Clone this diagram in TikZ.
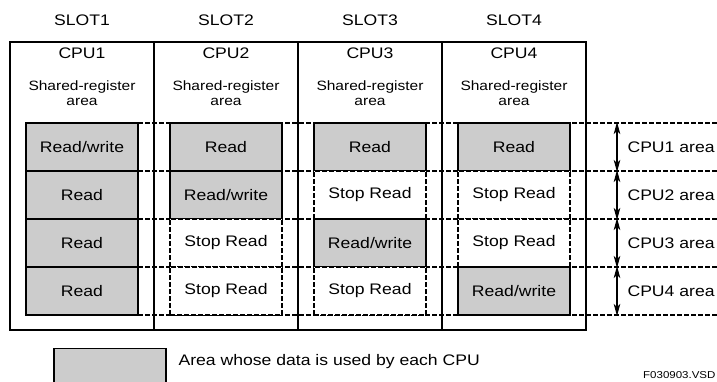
\documentclass[tikz,border=0pt]{standalone}
\usepackage{fontspec}
\setmainfont[FakeStretch=1.15]{Liberation Sans}
\usetikzlibrary{arrows.meta}
\definecolor{cellgray}{RGB}{204,204,204}
\definecolor{linecol}{RGB}{0,0,0}
\begin{document}
\begin{tikzpicture}[x=1pt,y=-1pt,line width=1.1pt,
  big/.style={font=\fontsize{15.3}{17}\selectfont,inner sep=0pt},
  sml/.style={font=\fontsize{13.5}{14.5}\selectfont,inner sep=0pt,align=center},
  tiny/.style={font=\fontsize{10}{12}\selectfont,inner sep=0pt},
  cellbase/.style={minimum width=112pt,minimum height=48pt,inner sep=0pt,
    font=\fontsize{15.3}{17}\selectfont,draw=linecol},
  gcell/.style={cellbase,fill=cellgray},
  wcell/.style={cellbase,fill=white,dash pattern=on 5pt off 2pt},
  dline/.style={draw=linecol,dash pattern=on 5pt off 2pt},
  frame/.style={draw=linecol},
  dim/.style={draw=linecol,line width=1.1pt,shorten <=-1pt,shorten >=-1pt,
    {Stealth[length=12pt,width=6.5pt,inset=3pt]}-{Stealth[length=12pt,width=6.5pt,inset=3pt]}}]
\clip (0,0) rectangle (717,381);
\fill[white] (0,0) rectangle (717,381);
% outer frame and column dividers
\draw[frame] (10,42) rectangle (586,330);
\foreach \x in {154,298,442} \draw[frame] (\x,42) -- (\x,330);
% slot / cpu headers
\foreach \i in {1,2,3,4}{
  \pgfmathsetmacro{\cx}{82+144*(\i-1)}
  \node[big] (slot\i) at (\cx,20) {SLOT\i};
  \node[big] (cpu\i) at (\cx,53) {CPU\i};
  \node[sml] (sh\i) at (\cx,93) {Shared-register\\area};
}
% horizontal dashed lines
\foreach \y in {123,171,219,267,315} \draw[dline] (26,\y) -- (717,\y);
% cells
\node[gcell] (c11) at (82,147) {Read/write};
\node[gcell] (c21) at (82,195) {Read};
\node[gcell] (c31) at (82,243) {Read};
\node[gcell] (c41) at (82,291) {Read};
\node[gcell] (c12) at (226,147) {Read};
\node[gcell] (c22) at (226,195) {Read/write};
\node[wcell] (c32) at (226,243) {Stop Read};
\node[wcell] (c42) at (226,291) {Stop Read};
\node[gcell] (c13) at (370,147) {Read};
\node[wcell] (c23) at (370,195) {Stop Read};
\node[gcell] (c33) at (370,243) {Read/write};
\node[wcell] (c43) at (370,291) {Stop Read};
\node[gcell] (c14) at (514,147) {Read};
\node[wcell] (c24) at (514,195) {Stop Read};
\node[wcell] (c34) at (514,243) {Stop Read};
\node[gcell] (c44) at (514,291) {Read/write};
% dimension arrows
\foreach \k/\y in {0/123,1/171,2/219,3/267,4/315} \coordinate (a\k) at (617,\y);
\draw[dim] (a0) -- (a1);
\draw[dim] (a1) -- (a2);
\draw[dim] (a2) -- (a3);
\draw[dim] (a3) -- (a4);
\node[big,anchor=west] (l1) at (627,147) {CPU1 area};
\node[big,anchor=west] (l2) at (627,195) {CPU2 area};
\node[big,anchor=west] (l3) at (627,243) {CPU3 area};
\node[big,anchor=west] (l4) at (627,291) {CPU4 area};
% legend
\node[gcell,anchor=north] (leg) at (110,348) {};
\node[big,anchor=west] (legt) at (178,362) {Area whose data is used by each CPU};
\node[tiny,anchor=east] (fig) at (716,375) {F030903.VSD};
\end{tikzpicture}
\end{document}
